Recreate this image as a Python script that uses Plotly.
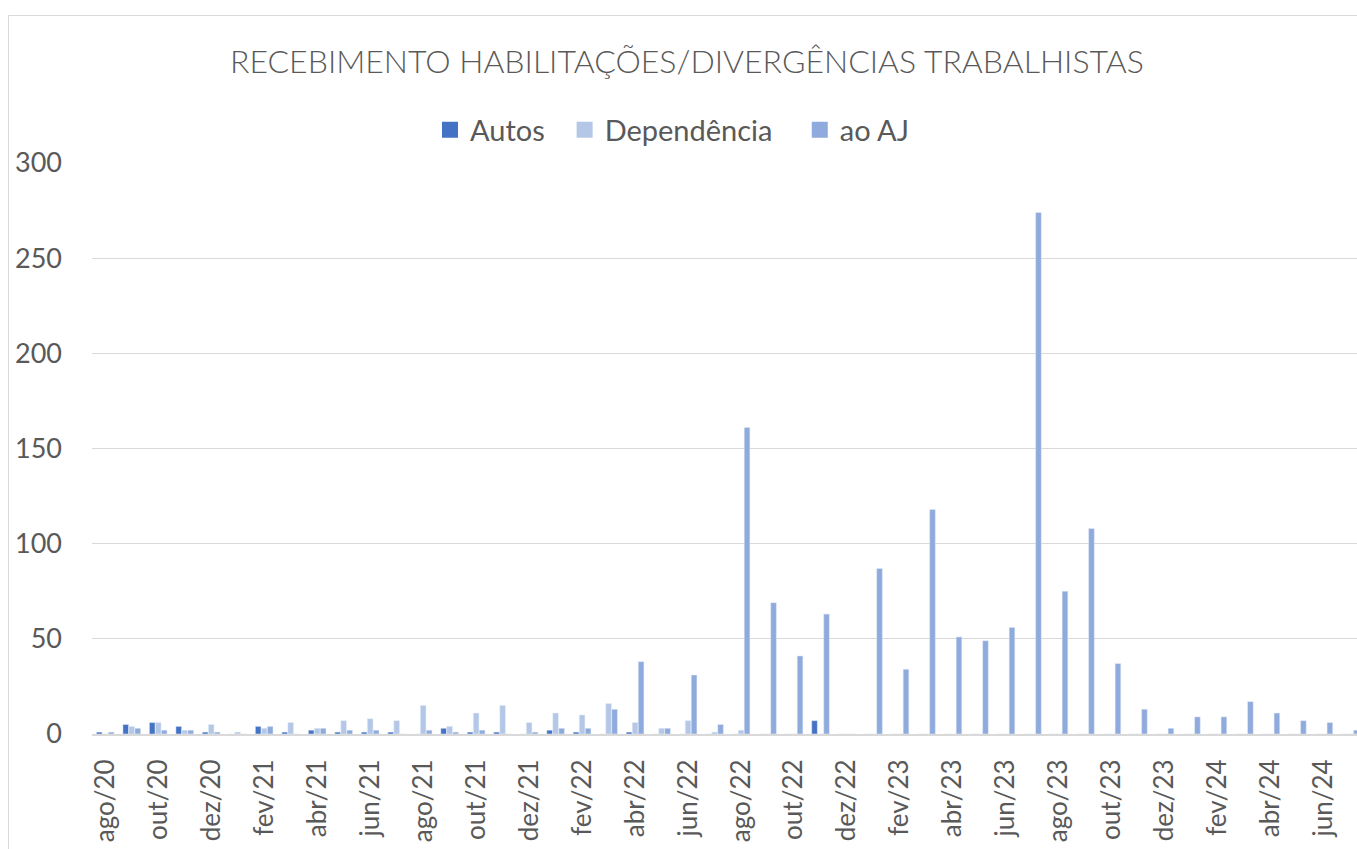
import plotly.graph_objects as go

months = ["ago/20", "set/20", "out/20", "nov/20", "dez/20",
          "jan/21", "fev/21", "mar/21", "abr/21", "mai/21", "jun/21", "jul/21",
          "ago/21", "set/21", "out/21", "nov/21", "dez/21",
          "jan/22", "fev/22", "mar/22", "abr/22", "mai/22", "jun/22", "jul/22",
          "ago/22", "set/22", "out/22", "nov/22", "dez/22",
          "jan/23", "fev/23", "mar/23", "abr/23", "mai/23", "jun/23", "jul/23",
          "ago/23", "set/23", "out/23", "nov/23", "dez/23",
          "jan/24", "fev/24", "mar/24", "abr/24", "mai/24", "jun/24", "jul/24"]

autos = [1, 5, 6, 4, 1,
         0, 4, 1, 2, 1, 1, 1,
         0, 3, 1, 1, 0,
         2, 1, 0, 1, 0, 0, 0,
         0, 0, 0, 7, 0,
         0, 0, 0, 0, 0, 0, 0,
         0, 0, 0, 0, 0,
         0, 0, 0, 0, 0, 0, 0]

dependencia = [0, 4, 6, 2, 5,
               1, 3, 6, 3, 7, 8, 7,
               15, 4, 11, 15, 6,
               11, 10, 16, 6, 3, 7, 1,
               2, 0, 0, 0, 0,
               0, 0, 0, 0, 0, 0, 0,
               0, 0, 0, 0, 0,
               0, 0, 0, 0, 0, 0, 0]

ao_aj = [1, 3, 2, 2, 1,
         0, 4, 0, 3, 2, 2, 0,
         2, 1, 2, 0, 1,
         3, 3, 13, 38, 3, 31, 5,
         161, 69, 41, 63, 0,
         87, 34, 118, 51, 49, 56, 274,
         75, 108, 37, 13, 3,
         9, 9, 17, 11, 7, 6, 2]

series_names = ["Autos", "Dependência", "ao AJ"]
series_colors = ["#4472C4", "#B4C7E7", "#8FAADC"]
legend_pad = [2, 3, 0]  # extra spacing after each legend label
y_ticks = [0, 50, 100, 150, 200, 250, 300]
x_tick_labels = months[::2]

FONT = "Lato"
GREY = "#595959"

fig = go.Figure()
for name, vals, col in zip(series_names, [autos, dependencia, ao_aj], series_colors):
    fig.add_bar(x=months, y=vals, name=name, marker_color=col,
                showlegend=False, legendgroup=name)
# legend entries with larger square swatches
for name, col, pad in zip(series_names, series_colors, legend_pad):
    fig.add_scatter(x=[None], y=[None], mode="markers",
                    name=name + "\u00a0" * pad, legendgroup=name,
                    marker=dict(symbol="square", size=16, color=col))

W, H = 1357, 849
L, R, T, B = 92, 0, 163, 115
PW = W - L - R
fig.update_layout(
    width=W, height=H, autosize=False,
    margin=dict(l=L, r=R, t=T, b=B, pad=0),
    paper_bgcolor="white", plot_bgcolor="white",
    barmode="group", bargap=0.32, bargroupgap=0.06,
    font=dict(family=FONT, color=GREY, size=24),
    title=dict(text="RECEBIMENTO HABILITAÇÕES/DIVERGÊNCIAS TRABALHISTAS",
               x=(687 - L) / PW, xref="paper", xanchor="center",
               y=1 - 62 / H, yref="container", yanchor="middle",
               font=dict(family=FONT, size=32, color=GREY, weight=300)),
    legend=dict(orientation="h", x=(672 - L) / PW, xanchor="center",
                y=(734 - 130) / 571, yanchor="middle",
                font=dict(family=FONT, size=29, color=GREY),
                itemsizing="trace", itemwidth=30, tracegroupgap=0,
                bgcolor="rgba(0,0,0,0)"),
    showlegend=True,
)
fig.update_xaxes(
    type="category", range=[-0.5, 47.25],
    tickmode="array", tickvals=x_tick_labels, ticktext=x_tick_labels,
    tickangle=-90, tickfont=dict(family=FONT, size=26, color=GREY),
    showgrid=False, showline=True, linecolor="#D9D9D9", linewidth=2,
    ticks="", ticklabelstandoff=13, fixedrange=True,
)
fig.update_yaxes(
    range=[0, 300], tickmode="array", tickvals=y_ticks,
    tickfont=dict(family=FONT, size=27, color=GREY),
    showgrid=True, gridcolor="#D9D9D9", gridwidth=1,
    zeroline=False, showline=False, ticks="", ticklabelstandoff=29,
)
# outer chart border (left and top edges visible in the crop)
fig.add_shape(type="line", xref="paper", yref="paper",
              x0=(8.5 - L) / PW, x1=(8.5 - L) / PW,
              y0=(734 - 15.5) / 571, y1=-0.3,
              line=dict(color="#D9D9D9", width=1))
fig.add_shape(type="line", xref="paper", yref="paper",
              x0=(8.5 - L) / PW, x1=1.1,
              y0=(734 - 15.5) / 571, y1=(734 - 15.5) / 571,
              line=dict(color="#D9D9D9", width=1))

fig.write_html("out.html", config={"displayModeBar": False},
               post_script="document.body.style.margin='0';document.body.style.overflow='hidden';")
